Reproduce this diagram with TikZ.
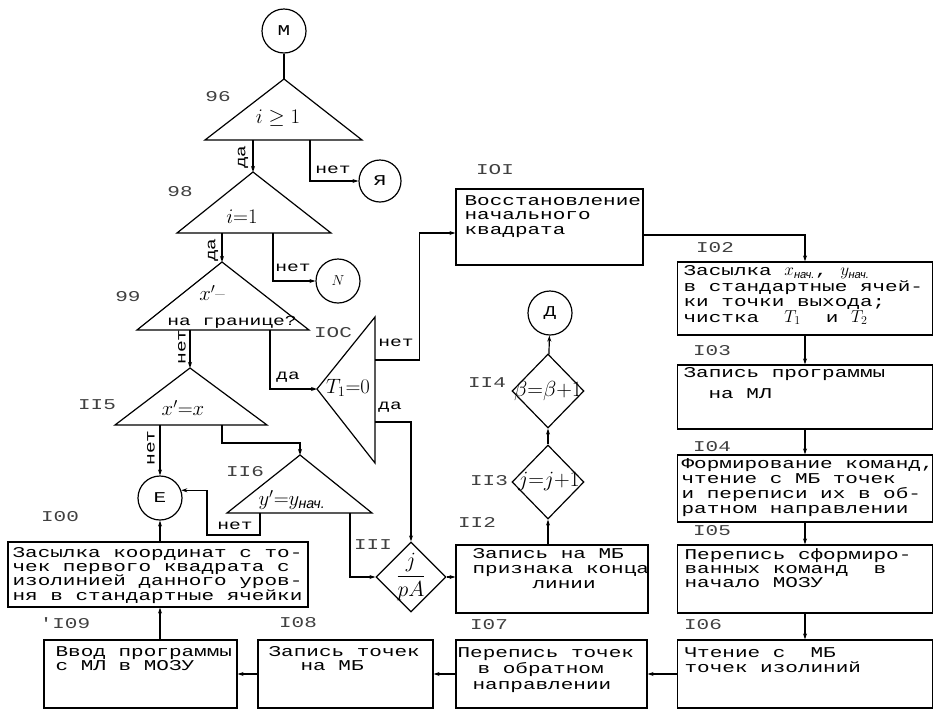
\documentclass[tikz,border=0pt]{standalone}
\usepackage{fontspec}
\usepackage{amsmath}
\usetikzlibrary{arrows.meta,shapes.geometric,positioning}
\newfontfamily\tw[FakeStretch=1.4]{Liberation Mono}
\newfontfamily\frm{Liberation Sans}
\newcommand\nach[1]{{\fontsize{16}{13}\selectfont$#1_{\text{\frm\itshape нач.}}$}}

\tikzset{
  box/.style={draw, rectangle, inner sep=0pt},
  txt/.style={anchor=north west, inner sep=0pt, align=left,
    font=\tw\fontsize{15}{#1}\selectfont},
  txt/.default=13.5,
  num/.style={font=\tw\fontsize{15}{15}\selectfont, text=black!75},
  formula/.style={font=\fontsize{17}{17}\selectfont, inner sep=0pt, scale=1.2},
  yn/.style={font=\tw\fontsize{14}{14}\selectfont, inner sep=0pt},
  con/.style={draw, circle, minimum size=44pt, inner sep=0pt,
    font=\tw\fontsize{15}{15}\selectfont},
  rhomb/.style={draw, diamond, minimum width=72pt, minimum height=74pt, inner sep=0pt},
  arr/.style={-{Stealth[length=6pt,width=4pt]}},
}

\begin{document}
\begin{tikzpicture}[x=1pt,y=-1pt,line width=1.2pt]
  \useasboundingbox (0,0) rectangle (934,710);

  % connectors
  \node[con] (M) at (284,31) {М};
  \node[con, minimum size=42pt] (Ya) at (380,181) {Я};
  \node[con] (N) at (338,281) {$N$};
  \node[con] (E) at (160,498) {Е};
  \node[con] (D) at (550,313) {Д};

  % triangles
  \coordinate (a96) at (284,79);   \coordinate (l96) at (205,140);  \coordinate (r96) at (362,140);
  \coordinate (a98) at (253,172);  \coordinate (l98) at (177,233);  \coordinate (r98) at (331,233);
  \coordinate (a99) at (222,262);  \coordinate (l99) at (137,330);  \coordinate (r99) at (309,330);
  \coordinate (a115) at (190,368); \coordinate (l115) at (115,425); \coordinate (r115) at (267,425);
  \coordinate (a116) at (300,455); \coordinate (l116) at (227,513); \coordinate (r116) at (372,513);
  \coordinate (lT1) at (317,389);  \coordinate (tT1) at (375,317);  \coordinate (bT1) at (375,463);

  \foreach \t in {96,98,99,115,116}
    \draw (a\t) -- (l\t) -- (r\t) -- cycle;
  \draw (lT1) -- (tT1) -- (bT1) -- cycle;

  \node[formula] (q96) at (278,118) {$i \geq 1$};
  \node[formula] (q98) at (242,217) {$i{=}1$};
  \node[formula] (q99) at (212,293) {$x'$--};
  \node[yn] (q99b) at (232,322) {на границе?};
  \node[formula] (q115) at (183,408) {$x'{=}x$};
  \node[formula] (q116) at (292,500) {$y'{=}y_{\text{\frm\itshape нач.}}$};
  \node[formula] (qT1) at (348,388) {$T_1{=}0$};

  % exits
  \coordinate (y96) at (a98 |- l96);
  \coordinate (n96) at (310,140);
  \coordinate (y98) at (a99 |- l98);
  \coordinate (n98) at (273,233);
  \coordinate (n99) at (a115 |- l99);
  \coordinate (y99) at (270,330);
  \coordinate (nT1) at (375,360);
  \coordinate (yT1) at (375,422);
  \coordinate (n115) at (160,425);
  \coordinate (o115) at (222,425);
  \coordinate (n116) at (260,513);
  \coordinate (o116) at (350,513);

  % diamonds
  \node[rhomb, minimum width=70pt, minimum height=70pt] (d111) at (411,577) {};
  \node[formula, scale=1.05] (f111) at (d111) {$\dfrac{j}{pA}$};
  \node[rhomb] (d113) at (548,482) {};
  \node[formula, scale=1.05] (f113) at (549,481) {$j{=}j{+}1$};
  \node[rhomb] (d114) at (548,391) {};
  \node[formula, scale=1.05] (f114) at (548,391) {$\beta{=}\beta{+}1$};

  % boxes
  \node[box, minimum width=300pt, minimum height=65pt] (b100) at (158,574.5) {};
  \node[box, minimum width=187pt, minimum height=76pt] (b101) at (549.5,227) {};
  \node[box, minimum width=255pt, minimum height=73pt] (b102) at (805,298.5) {};
  \node[box, minimum width=255pt, minimum height=64pt] (b103) at (805,397) {};
  \node[box, minimum width=255pt, minimum height=67pt] (b104) at (805,488.5) {};
  \node[box, minimum width=255pt, minimum height=68pt] (b105) at (805,579) {};
  \node[box, minimum width=255pt, minimum height=68pt] (b106) at (805,674) {};
  \node[box, minimum width=191pt, minimum height=68pt] (b107) at (551.5,674) {};
  \node[box, minimum width=175pt, minimum height=68pt] (b108) at (345.5,674) {};
  \node[box, minimum width=193pt, minimum height=68pt] (b109) at (140.5,674) {};
  \node[box, minimum width=192pt, minimum height=68pt] (b112) at (552,579) {};

  \node[txt] (x100) at (12,547) {Засылка координат с то-\\чек первого квадрата с\\изолинией данного уров-\\ня в стандартные ячейки};
  \node[txt=14.5] (x101) at (464,195) {Восстановление\\начального\\квадрата};
  \node[txt=15.5] (x102) at (683,265) {Засылка \nach{x}, \nach{y}\\в стандартные ячей-\\ки точки выхода;\\чистка\ \ {\fontsize{17}{13}\selectfont$T_1$}\ \ и {\fontsize{17}{13}\selectfont$T_2$}};
  \node[txt=21] (x103) at (683,367) {Запись программы\\\hspace*{25pt}на МЛ};
  \node[txt=15] (x104) at (681,458) {Формирование команд,\\чтение с МБ точек\\и переписи их в об-\\ратном направлении};
  \node[txt=14] (x105) at (684,548) {Перепись сформиро-\\ванных команд\ \ в\\начало МОЗУ};
  \node[txt=15] (x106) at (684,647) {Чтение с\ \ МБ\\точек изолиний};
  \node[txt=16] (x107) at (457,647) {Перепись точек\\\hspace*{20pt}в обратном\\\hspace*{15pt}направлении};
  \node[txt=14] (x108) at (268,646) {Запись точек\\\hspace*{32pt}на МБ};
  \node[txt=14] (x109) at (55,646) {Ввод программы\\с МЛ в МОЗУ};
  \node[txt=15] (x112) at (472,548) {Запись на МБ\\признака конца\\\hspace*{60pt}линии};

  % block numbers
  \node[num] (k96) at (218,97) {96};
  \node[num] (k98) at (180,192) {98};
  \node[num] (k99) at (128,297) {99};
  \node[num] (k100c) at (333,333) {IOC};
  \node[num] (k115) at (97,405) {II5};
  \node[num] (k116) at (245,472) {II6};
  \node[num] (k100) at (60,517) {I00};
  \node[num] (k111) at (373,545) {III};
  \node[num] (k101) at (495,170) {IOI};
  \node[num] (k102) at (715,248) {I02};
  \node[num] (k103) at (712,351) {I03};
  \node[num] (k104) at (712,447) {I04};
  \node[num] (k105) at (712,531) {I05};
  \node[num] (k106) at (703,625) {I06};
  \node[num] (k107) at (489,625) {I07};
  \node[num] (k108) at (298,623) {I08};
  \node[num] (k109) at (65,623) {'I09};
  \node[num] (k112) at (477,522) {II2};
  \node[num] (k113) at (489,481) {II3};
  \node[num] (k114) at (487,383) {II4};

  % yes / no
  \node[yn, rotate=90] (t1) at (243,157) {да};
  \node[yn] (t2) at (333,170) {нет};
  \node[yn, rotate=90] (t3) at (213,250) {да};
  \node[yn] (t4) at (293,268) {нет};
  \node[yn, rotate=90] (t5) at (182,347) {нет};
  \node[yn] (t6) at (288,377) {да};
  \node[yn] (t7) at (396,343) {нет};
  \node[yn] (t8) at (390,407) {да};
  \node[yn, rotate=90] (t9) at (151,448) {нет};
  \node[yn] (t10) at (235,526) {нет};

  % lines
  \draw (M) -- (a96);
  \draw[arr] (y96) -- (a98);
  \draw[arr] (n96) |- (Ya);
  \draw[arr] (y98) -- (a99);
  \draw[arr] (n98) |- (N);
  \draw[arr] (n99) -- (a115);
  \draw[arr] (y99) |- (lT1);
  \draw[arr] (nT1) -| ([xshift=-36pt,yshift=-6pt]b101.west) -- ([yshift=-6pt]b101.west);
  \draw[arr] (yT1) -| (d111.north);
  \draw[arr] (n115) -- (E);
  \draw[arr] (o115) -- ++(0,18) -| (a116);
  \draw[arr] (n116) -- ++(0,22) -- ++(-53,0) |- (E.20);
  \draw[arr] (o116) |- (d111);
  \draw[arr] (d111.east) -- (d111.east -| b112.west);
  \draw[arr] (b100.north -| E) -- (E);
  \draw[arr] (b109.north -| E) -- (b100.south -| E);
  \draw[arr] (b108) -- (b109);
  \draw[arr] (b107) -- (b108);
  \draw[arr] (b106) -- (b107);
  \draw[arr] ([yshift=-8pt]b101.east) -| (b102.north);
  \draw[arr] (b102) -- (b103);
  \draw[arr] (b103) -- (b104);
  \draw[arr] (b104) -- (b105);
  \draw[arr] (b105) -- (b106);
  \draw[arr] (b112.north -| d113) -- (d113);
  \draw[arr] (d113) -- (d114);
  \draw[arr] (d114) -- (D);
\end{tikzpicture}
\end{document}
